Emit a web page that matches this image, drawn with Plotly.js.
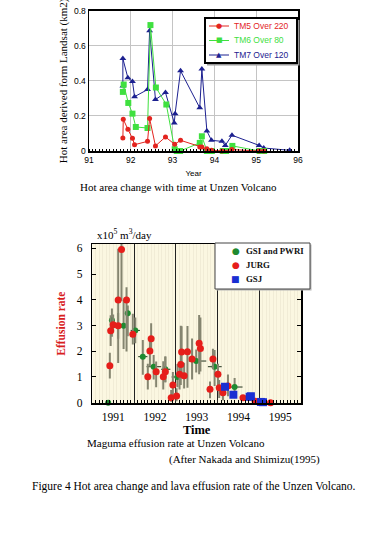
<!DOCTYPE html>
<html><head><meta charset="utf-8">
<script src="https://cdn.plot.ly/plotly-3.0.1.min.js"></script>
<style>html,body{margin:0;padding:0;background:#fff}#chart{width:387px;height:550px}</style>
</head><body><div id="chart"></div>
<script>
// ---------- Top chart: hot area (km2) vs year ----------
const topSeriesNames = ['TM5 Over 220', 'TM6 Over 80', 'TM7 Over 120'];
const tm5Year = [91.81, 91.82, 91.93, 92.04, 92.09, 92.40, 92.45, 92.59, 92.83, 93.05, 93.19, 93.65, 93.70, 93.82, 93.93, 94.18, 94.42, 95.07, 95.18];
const tm5Area = [0.074, 0.181, 0.124, 0.072, 0.036, 0.055, 0.185, 0.029, 0.080, 0.038, 0.061, 0.023, 0.023, 0.013, 0.004, 0.000, 0.008, 0.000, 0.000];
const tm6Year = [91.81, 91.83, 91.94, 92.04, 92.12, 92.40, 92.47, 92.60, 92.85, 93.05, 93.10, 93.18, 93.65, 93.70, 93.82, 93.94, 94.20, 94.28, 94.43, 95.08, 95.19];
const tm6Area = [0.337, 0.379, 0.274, 0.213, 0.137, 0.131, 0.718, 0.362, 0.265, 0.010, 0.000, 0.000, 0.046, 0.084, 0.000, 0.000, 0.000, 0.000, 0.029, 0.000, 0.000];
const tm7Year = [91.81, 91.81, 91.93, 92.04, 92.09, 92.40, 92.45, 92.59, 92.83, 93.04, 93.06, 93.19, 93.65, 93.70, 93.82, 93.93, 94.18, 94.26, 94.42, 95.07, 95.18, 95.80];
const tm7Area = [0.370, 0.527, 0.417, 0.396, 0.310, 0.350, 0.685, 0.293, 0.333, 0.160, 0.213, 0.457, 0.246, 0.467, 0.114, 0.061, 0.055, 0.032, 0.090, 0.032, 0.017, 0.004];
const topYearTicks = [91, 92, 93, 94, 95, 96];

// ---------- Bottom chart: effusion rate (x10^5 m3/day) ----------
const bottomSeriesNames = ['GSI and PWRI', 'JURG', 'GSJ'];
const gsiYear = [1991.38, 1991.47, 1991.75, 1991.85, 1992.03, 1992.21, 1992.47, 1992.75, 1993.04, 1993.49, 1993.93, 1994.41];
const gsiRate = [0.00, 3.21, 2.99, 3.48, 2.81, 1.79, 1.40, 1.30, 1.00, 1.62, 1.40, 0.61];
const gsiRateUp = [0, 0.45, 1.00, 0.30, 0.50, 0.65, 0.45, 0.50, 0.50, 0.45, 0.65, 0.35];
const gsiRateDown = [0, 0.65, 0.90, 0.90, 0.50, 0.70, 0.50, 0.50, 0.40, 0.45, 0.75, 0.25];
const gsiSpanBefore = [0, 0, 0, 0, 0.11, 0.11, 0.17, 0.10, 0.14, 0.18, 0.16, 0.18];
const gsiSpanAfter = [0, 0, 0, 0, 0.11, 0.11, 0.18, 0.12, 0.14, 0.24, 0.17, 0.19];

const jurgYear = [1991.42, 1991.44, 1991.50, 1991.62, 1991.62, 1991.70, 1991.82, 1991.97, 1992.33, 1992.38, 1992.41, 1992.53, 1992.70, 1992.75, 1992.89, 1992.93, 1993.02, 1993.09, 1993.12, 1993.14, 1993.20, 1993.28, 1993.39, 1993.56, 1993.59, 1993.82, 1993.89, 1994.01, 1994.04, 1994.13, 1994.25, 1994.61, 1994.76, 1994.90, 1995.27];
const jurgRate = [1.44, 2.80, 3.03, 2.99, 3.99, 5.96, 3.99, 2.66, 1.01, 2.01, 2.49, 1.20, 1.01, 1.20, 0.19, 0.69, 0.26, 1.11, 1.49, 1.97, 1.05, 1.98, 1.70, 2.31, 2.11, 0.52, 1.70, 1.11, 0.58, 0.39, 0.65, 0.19, 0.21, 0.06, 0.00];
const jurgRateUp = [0.50, 0.60, 0.40, 0.50, 2.00, 0.30, 0.50, 0.80, 0.50, 0.40, 0.60, 0.40, 0.60, 0.60, 0.30, 0.50, 0.30, 0.50, 1.50, 1.00, 0.50, 1.00, 0.80, 1.10, 1.20, 0.30, 0.40, 0.40, 0.30, 0.30, 0.45, 0, 0, 0, 0];
const jurgRateDown = [0.50, 0.60, 0.30, 0.50, 2.45, 2.00, 2.00, 0.40, 0.50, 0.60, 0.50, 0.60, 0.50, 0.40, 0.15, 0.40, 0.20, 0.60, 0.80, 1.00, 0.50, 1.40, 0.80, 1.20, 0.90, 0.35, 0.40, 0.50, 0.40, 0.30, 0.40, 0, 0, 0, 0];

const gsjYear = [1994.18, 1994.38, 1994.77, 1994.80, 1995.04, 1995.09];
const gsjRate = [0.62, 0.31, 0.23, 0.25, 0.03, 0.02];

const bottomYearLabels = ['1991', '1992', '1993', '1994', '1995'];
const bottomYearCentres = [1991.5, 1992.5, 1993.5, 1994.5, 1995.5];

// ---------- helpers (page pixel -> paper) ----------
const W = 387, H = 550;
const px = v => v / W;
const py = v => 1 - v / H;

const SERIF = 'Liberation Serif, Times New Roman, serif';
const SANS = 'Liberation Sans, Arial, sans-serif';

const cRed = '#e3241f', cGreen = '#3fe03f', cBlue = '#1c2090';
const bRed = '#e61e1a', bGreen = '#1f8a30', bBlue = '#1a2fd2';
const errGrey = '#858570';

const traces = [
  {x: tm7Year, y: tm7Area, name: topSeriesNames[2], mode: 'lines+markers', xaxis: 'x', yaxis: 'y', cliponaxis: false,
   line: {color: cBlue, width: 1}, marker: {symbol: 'triangle-up', size: 6, color: cBlue}},
  {x: tm6Year, y: tm6Area, name: topSeriesNames[1], mode: 'lines+markers', xaxis: 'x', yaxis: 'y', cliponaxis: false,
   line: {color: cGreen, width: 1}, marker: {symbol: 'square', size: 6, color: cGreen}},
  {x: tm5Year, y: tm5Area, name: topSeriesNames[0], mode: 'lines+markers', xaxis: 'x', yaxis: 'y', cliponaxis: false,
   line: {color: cRed, width: 1}, marker: {symbol: 'circle', size: 5, color: cRed}},

  {x: gsiYear, y: gsiRate, name: bottomSeriesNames[0], mode: 'markers', xaxis: 'x2', yaxis: 'y2', cliponaxis: false,
   marker: {symbol: 'circle', size: 6, color: bGreen},
   error_y: {type: 'data', symmetric: false, array: gsiRateUp, arrayminus: gsiRateDown, color: errGrey, thickness: 2, width: 0},
   error_x: {type: 'data', symmetric: false, array: gsiSpanAfter, arrayminus: gsiSpanBefore, color: '#22331f', thickness: 1, width: 0, copy_ystyle: false}},
  {x: jurgYear, y: jurgRate, name: bottomSeriesNames[1], mode: 'markers', xaxis: 'x2', yaxis: 'y2', cliponaxis: false,
   marker: {symbol: 'circle', size: 7, color: bRed},
   error_y: {type: 'data', symmetric: false, array: jurgRateUp, arrayminus: jurgRateDown, color: errGrey, thickness: 2, width: 0}},
  {x: gsjYear, y: gsjRate, name: bottomSeriesNames[2], mode: 'markers', xaxis: 'x3', yaxis: 'y2', cliponaxis: false,
   marker: {symbol: 'square', size: 8, color: bBlue}}
];

const topLegendRows = [26, 40.5, 55];
const topLegendColors = [cRed, cGreen, cBlue];
const topLegendGlyphs = ['●', '■', '▲'];
const botLegendRows = [251, 265.5, 279];
const botLegendColors = [bGreen, bRed, bBlue];
const botLegendGlyphs = ['●', '●', '■'];

const shapes = [
  // cream background of lower plot
  {type: 'rect', xref: 'x2 domain', yref: 'y2 domain', x0: 0, x1: 1, y0: 0, y1: 1, layer: 'below',
   fillcolor: '#fbf7e1', line: {width: 0}},
  // top legend box (shadow + box)
  {type: 'rect', xref: 'paper', yref: 'paper', x0: px(207), x1: px(299.5), y0: py(65.5), y1: py(20), fillcolor: '#9a9a9a', line: {width: 0}},
  {type: 'rect', xref: 'paper', yref: 'paper', x0: px(205), x1: px(297), y0: py(63), y1: py(18), fillcolor: '#ffffff', line: {color: '#000', width: 2}},
  // bottom legend box
  {type: 'rect', xref: 'paper', yref: 'paper', x0: px(216.5), x1: px(311.5), y0: py(290.5), y1: py(244.5), fillcolor: '#b5b5b5', line: {width: 0}},
  {type: 'rect', xref: 'paper', yref: 'paper', x0: px(215), x1: px(310), y0: py(289), y1: py(243), fillcolor: '#ffffff', line: {color: '#444', width: 1}}
];
topLegendRows.forEach((r, i) => {
  shapes.push({type: 'line', xref: 'paper', yref: 'paper', x0: px(209), x1: px(229), y0: py(r), y1: py(r),
               line: {color: topLegendColors[i], width: 1}});
});

const annotations = [];
topSeriesNames.forEach((n, i) => {
  annotations.push({xref: 'paper', yref: 'paper', x: px(219), y: py(topLegendRows[i]), text: topLegendGlyphs[i],
    showarrow: false, xanchor: 'center', yanchor: 'middle', font: {family: 'DejaVu Sans', size: 7, color: topLegendColors[i]}});
  annotations.push({xref: 'paper', yref: 'paper', x: px(232), y: py(topLegendRows[i]), text: n,
    showarrow: false, xanchor: 'left', yanchor: 'middle', font: {family: SANS, size: 8.5, color: topLegendColors[i]}});
});
bottomSeriesNames.forEach((n, i) => {
  annotations.push({xref: 'paper', yref: 'paper', x: px(235.5), y: py(botLegendRows[i]), text: botLegendGlyphs[i],
    showarrow: false, xanchor: 'center', yanchor: 'middle', font: {family: 'DejaVu Sans', size: 9, color: botLegendColors[i]}});
  annotations.push({xref: 'paper', yref: 'paper', x: px(244), y: py(botLegendRows[i]), text: '<b>' + n + '</b>',
    showarrow: false, xanchor: 'left', yanchor: 'middle', font: {family: SERIF, size: 8.8, color: '#111'}});
});
annotations.push(
  {xref: 'paper', yref: 'paper', x: px(178), y: py(187), text: 'Hot area change with time at Unzen Volcano',
   showarrow: false, xanchor: 'center', yanchor: 'middle', font: {family: SERIF, size: 11, color: '#000'}},
  {xref: 'paper', yref: 'paper', x: px(95), y: py(243), text: 'x10<sup>5</sup> m<sup>3</sup>/day',
   showarrow: false, xanchor: 'left', yanchor: 'bottom', font: {family: SERIF, size: 11, color: '#000'}},
  {xref: 'paper', yref: 'paper', x: px(175.5), y: py(443), text: 'Maguma effusion rate at Unzen Volcano',
   showarrow: false, xanchor: 'center', yanchor: 'middle', font: {family: SERIF, size: 11, color: '#000'}},
  {xref: 'paper', yref: 'paper', x: px(244.5), y: py(459), text: '(After Nakada and Shimizu(1995)',
   showarrow: false, xanchor: 'center', yanchor: 'middle', font: {family: SERIF, size: 11, color: '#000'}},
  {xref: 'paper', yref: 'paper', x: px(193.5), y: py(486), text: 'Figure 4 Hot area change and lava effusion rate of the Unzen Volcano.',
   showarrow: false, xanchor: 'center', yanchor: 'middle', font: {family: SERIF, size: 11.5, color: '#000'}}
);

const layout = {
  width: W, height: H,
  margin: {l: 0, r: 0, t: 0, b: 0, pad: 0},
  paper_bgcolor: '#ffffff', plot_bgcolor: 'rgba(0,0,0,0)',
  showlegend: false,
  xaxis: {
    domain: [px(89), px(298)], anchor: 'y', range: [91, 96],
    tickvals: topYearTicks, ticks: '', showgrid: true, gridcolor: '#c4c4c4', gridwidth: 1,
    zeroline: false, showline: true, linecolor: '#000', linewidth: 1.5, mirror: true,
    minor: {dtick: 1 / 12, tick0: 91, ticks: 'inside', ticklen: 2, tickcolor: '#000', showgrid: false},
    tickfont: {family: SANS, size: 8.5, color: '#000'},
    title: {text: 'Year', font: {family: SANS, size: 8, color: '#000'}, standoff: 6}
  },
  yaxis: {
    domain: [py(151), py(10.7)], anchor: 'x', range: [0, 0.8], dtick: 0.2, ticks: '',
    showgrid: true, gridcolor: '#c4c4c4', gridwidth: 1, zeroline: false,
    showline: true, linecolor: '#000', linewidth: 1.5, mirror: true,
    tickfont: {family: SANS, size: 8.5, color: '#000'},
    title: {text: 'Hot area derived form Landsat (km2)', font: {family: SERIF, size: 11, color: '#000'}, standoff: 4}
  },
  xaxis2: {
    domain: [px(92.3), px(301)], anchor: 'y2', range: [1991, 1996],
    tick0: 1991, dtick: 1, ticks: '', showticklabels: false,
    showgrid: true, gridcolor: '#222', gridwidth: 1, zeroline: false,
    showline: true, linecolor: '#000', linewidth: 1.5, mirror: true,
    minor: {dtick: 1 / 12, tick0: 1991, ticks: 'inside', ticklen: 3, tickcolor: '#000', showgrid: true, gridcolor: '#f1ecd6', gridwidth: 1}
  },
  xaxis3: {
    domain: [px(92.3), px(301)], anchor: 'y2', overlaying: 'x2', range: [1991, 1996],
    tickvals: bottomYearCentres, ticktext: bottomYearLabels, ticks: '', showgrid: false, zeroline: false, showline: false,
    tickfont: {family: SERIF, size: 11.5, color: '#000'}, ticklabelstandoff: 5,
    title: {text: '<b>Time</b>', font: {family: SERIF, size: 12.5, color: '#000'}, standoff: 2}
  },
  yaxis2: {
    domain: [py(403.3), py(244)], anchor: 'x2', range: [-0.023, 6.17], dtick: 1, tick0: 0,
    ticks: 'inside', ticklen: 4, tickcolor: '#000', showgrid: false, zeroline: false,
    showline: true, linecolor: '#000', linewidth: 1.5, mirror: 'ticks',
    tickfont: {family: SERIF, size: 11.5, color: '#000'}, ticklabelstandoff: 6,
    title: {text: '<b>Effusion rate</b>', font: {family: SERIF, size: 11.5, color: '#d8201c'}, standoff: 8}
  },
  shapes: shapes,
  annotations: annotations
};

Plotly.newPlot('chart', traces, layout, {staticPlot: true, displayModeBar: false});
</script></body></html>
